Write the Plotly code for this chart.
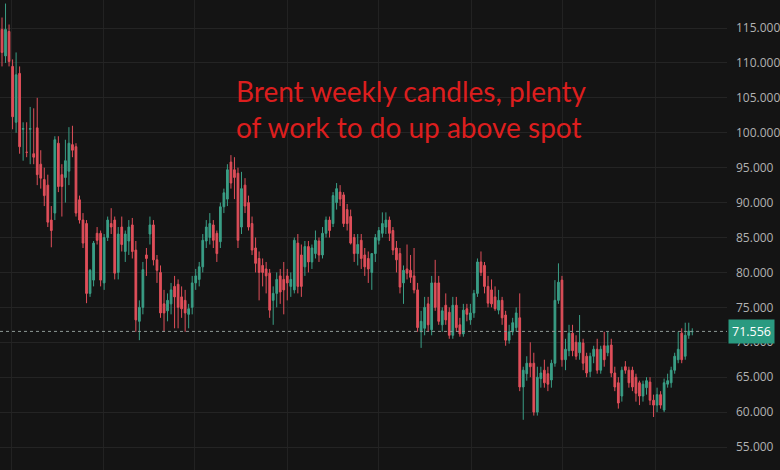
import pandas as pd
import plotly.graph_objects as go

# Weekly Brent OHLC
opens = [114.8,111.0,114.5,109.5,101.5,108.5,100.5,97.2,100.5,97.0,100.7,95.5,93.3,92.5,87.5,88.5,98.5,94.0,93.6,94.5,98.3,98.0,90.4,87.5,87.0,77.0,78.9,85.6,85.6,78.5,85.0,87.0,87.5,
         80.0,86.5,83.0,84.5,86.8,83.2,73.0,75.0,82.5,85.5,86.8,81.8,80.0,75.5,74.5,75.5,78.0,78.3,76.5,76.0,74.0,75.0,78.5,79.0,80.8,84.5,85.0,86.8,85.6,84.4,89.4,90.5,
         95.8,94.7,94.2,86.5,92.5,90.0,87.0,83.5,82.0,81.0,80.5,79.9,76.0,77.0,79.5,79.0,79.5,78.0,77.5,84.2,82.5,80.8,83.7,81.5,82.7,84.5,82.5,85.6,87.5,87.0,90.0,91.5,
         91.1,89.0,88.0,85.0,82.7,84.6,82.5,82.0,80.0,82.7,84.6,85.6,86.5,87.5,86.0,83.5,82.7,78.5,80.5,80.3,79.5,77.5,71.5,72.0,75.5,71.8,78.5,78.5,72.5,75.3,74.3,71.0,
         75.3,72.5,71.2,74.8,73.2,74.2,77.0,81.5,81.0,78.0,77.5,76.5,74.6,76.0,73.9,70.3,71.5,72.1,73.5,63.6,65.5,67.0,67.0,60.0,64.8,66.0,65.5,64.6,67.0,76.0,78.9,67.5,
         68.8,71.3,70.0,68.5,69.9,68.0,65.8,68.0,69.0,66.0,69.5,68.5,69.6,65.6,64.2,62.3,66.5,66.0,66.0,65.0,64.2,62.3,63.5,64.3,61.7,61.0,62.5,60.3,64.0,64.2,66.0,67.5,
         71.3,68.0,71.0,71.5]
highs = [116.5,118.5,115.5,110.5,111.5,109.5,101.5,101.5,103.7,103.5,105.0,97.5,95.0,94.0,89.5,99.5,99.5,95.5,99.0,100.8,101.0,98.5,91.0,88.5,87.5,80.5,84.5,86.5,86.0,85.5,88.0,89.2,88.0,
         86.5,88.0,86.0,87.5,87.8,84.5,76.0,81.5,83.5,88.0,87.5,82.5,81.0,77.5,77.0,78.5,79.5,79.0,78.0,77.5,75.5,79.5,80.5,81.5,85.5,87.5,88.5,87.5,86.0,90.0,92.0,95.5,
         96.8,96.5,95.0,94.4,93.5,91.0,88.0,85.0,83.0,82.0,81.5,80.5,78.0,80.0,80.5,81.5,80.5,80.0,85.0,85.5,84.0,84.5,84.5,84.0,86.0,85.0,86.5,88.0,88.0,91.5,92.8,92.5,
         91.5,89.8,89.0,85.5,85.5,85.5,83.5,83.0,82.7,85.5,86.5,88.6,88.6,88.0,86.5,84.5,83.5,81.0,84.0,82.5,83.5,78.5,74.5,76.5,76.5,79.5,81.8,79.5,75.0,77.0,75.0,76.5,
         76.5,73.5,75.5,75.5,75.5,77.5,82.0,83.0,81.5,79.5,79.0,78.0,77.5,76.5,74.5,72.5,73.5,75.0,77.0,66.5,68.0,70.0,68.5,66.5,66.5,67.5,66.5,67.5,78.9,81.3,79.5,70.5,
         72.5,72.5,71.0,73.9,70.5,68.5,68.5,69.5,70.5,69.5,71.5,71.5,70.5,66.5,65.0,66.5,67.3,66.5,66.5,65.5,64.5,64.5,65.0,65.0,62.5,63.5,63.0,64.8,65.5,66.5,68.5,71.5,
         72.0,72.8,72.8,72.0]
lows = [109.5,110.0,109.5,100.5,100.0,97.0,96.0,96.5,95.5,95.5,92.5,92.0,89.5,86.5,83.6,87.5,91.5,88.0,90.0,92.5,96.5,88.0,87.0,83.5,75.6,76.5,78.0,84.0,78.0,77.5,84.5,85.5,79.0,
         79.0,83.0,81.5,82.5,82.0,71.5,70.3,74.0,79.5,84.0,81.0,78.5,73.5,71.5,73.0,74.0,72.0,72.0,73.5,71.5,72.0,74.0,77.5,78.0,80.0,83.5,84.0,83.5,81.5,83.5,88.5,89.5,
         92.0,90.5,83.5,85.5,88.5,86.0,82.5,80.0,76.0,78.0,77.0,73.5,72.5,75.0,75.5,74.0,76.0,76.5,77.0,77.0,76.5,79.5,80.0,80.5,82.0,81.5,82.0,85.0,85.0,86.5,89.0,89.5,
         86.5,86.0,84.0,81.5,81.0,80.5,79.5,78.5,77.5,81.5,84.0,85.0,85.5,84.5,82.5,80.0,77.0,75.5,79.0,78.5,77.0,71.5,69.2,71.0,71.5,71.0,74.5,72.5,71.5,72.5,70.5,70.5,
         71.5,70.8,70.8,73.0,72.5,73.5,76.5,79.5,77.0,75.0,75.0,74.5,74.0,72.5,69.5,69.8,71.0,71.5,63.0,58.9,64.5,65.0,59.5,59.5,63.5,63.5,63.0,63.5,66.5,75.5,66.5,66.0,
         68.0,68.0,67.5,67.5,66.0,65.0,65.0,67.0,65.5,65.5,66.5,68.0,65.0,63.0,60.5,61.5,65.5,63.5,63.0,61.5,61.0,61.5,62.5,61.0,59.3,60.0,60.5,60.0,63.5,63.5,65.5,67.0,
         67.0,67.5,70.5,71.0]
closes = [111.5,114.8,110.2,102.3,108.3,98.0,100.6,97.2,100.6,96.5,94.0,93.5,91.0,87.2,86.0,99.0,92.3,92.3,96.0,98.5,97.5,88.5,87.5,84.2,77.0,80.3,84.2,84.6,78.9,85.0,87.5,86.5,79.9,
          85.5,84.0,85.5,86.5,83.0,73.2,75.0,80.4,82.0,86.8,81.8,80.3,74.2,74.2,76.0,77.5,76.5,75.0,74.8,74.2,74.8,78.5,79.5,80.8,84.6,86.5,87.0,84.6,82.7,89.4,91.4,94.7,
          92.8,93.6,84.6,92.0,89.5,86.5,83.2,81.3,80.0,80.0,79.5,74.6,77.0,79.0,77.2,77.5,78.5,79.0,84.6,78.0,78.0,83.7,81.5,83.5,84.6,82.5,85.6,87.5,86.0,91.0,92.0,90.5,
          87.0,87.0,84.2,82.7,84.0,82.0,80.8,80.5,82.7,85.0,86.0,87.0,87.5,85.6,83.2,81.8,77.9,80.3,79.9,79.3,77.5,72.1,73.0,75.0,72.5,78.5,75.0,73.0,74.5,73.2,71.0,75.3,
          72.1,71.2,74.6,74.0,74.2,77.0,81.5,80.0,78.0,75.6,75.5,74.8,76.0,73.5,70.3,71.5,72.8,74.2,63.6,66.0,67.0,66.5,60.0,65.0,65.6,64.2,64.0,67.0,76.0,78.6,67.5,69.0,
          71.3,68.8,68.0,70.0,67.0,65.6,68.0,69.0,66.0,69.0,67.5,69.5,65.6,63.6,61.3,66.0,66.0,64.2,63.6,62.7,62.3,64.0,64.5,61.7,61.0,62.5,61.0,64.2,64.5,66.0,68.0,69.0,
          67.5,71.0,71.6,71.556]

last_price = 71.556
y_ticks = [55, 60, 65, 70, 75, 80, 85, 90, 95, 100, 105, 110, 115]
title_text = "Brent weekly candles, plenty<br>of work to do up above spot"

n = len(closes)
dates = pd.date_range("2022-06-13", periods=n, freq="7D")

BG = "#141414"
UP = "#3a9e86"
DOWN = "#e04f5a"

fig = go.Figure()
fig.add_trace(go.Candlestick(
    x=dates, open=opens, high=highs, low=lows, close=closes,
    increasing=dict(line=dict(color=UP, width=1), fillcolor=UP),
    decreasing=dict(line=dict(color=DOWN, width=1), fillcolor=DOWN),
    whiskerwidth=0, showlegend=False, hoverinfo="skip",
))

fig.add_hline(y=last_price, line=dict(color="#8f9a96", width=1, dash="dot"))

fig.add_annotation(
    xref="paper", yref="y", x=1, y=last_price, xanchor="left", yanchor="middle",
    xshift=1, text=f"{last_price:.3f}", showarrow=False,
    font=dict(family="Open Sans, Arial", size=12.5, color="#ffffff"),
    bgcolor="#2a9a80", borderpad=3,
)

fig.add_annotation(
    xref="paper", yref="paper", x=234 / 727, y=1 - 72 / 470,
    xanchor="left", yanchor="top", align="left", showarrow=False,
    text=title_text,
    font=dict(family="Lato, Open Sans, sans-serif", size=28, color="#dc1e1e"),
)

x0 = dates[0] - pd.Timedelta(days=4)
x1 = dates[-1] + pd.Timedelta(days=69)

fig.update_layout(
    width=780, height=470,
    margin=dict(l=0, r=53, t=0, b=0),
    paper_bgcolor=BG, plot_bgcolor=BG,
    xaxis=dict(
        range=[x0, x1], rangeslider=dict(visible=False),
        showgrid=True, gridcolor="#222222", gridwidth=1,
        tick0="2023-01-01", dtick="M6",
        showticklabels=False, zeroline=False, showline=False, ticks="",
    ),
    yaxis=dict(
        side="right", range=[51.71, 119.01],
        tickvals=y_ticks, tickformat=".3f",
        showgrid=True, gridcolor="#242424", gridwidth=1,
        tickfont=dict(family="Open Sans, Arial", size=12, color="#b2b2b2"),
        zeroline=False, showline=False, ticks="", ticklabelstandoff=8,
    ),
)

fig.write_html(
    "out.html",
    config={"displayModeBar": False, "staticPlot": True},
    post_script="document.body.style.margin='0';document.body.style.overflow='hidden';"
    "document.body.style.background='" + BG + "';",
)
